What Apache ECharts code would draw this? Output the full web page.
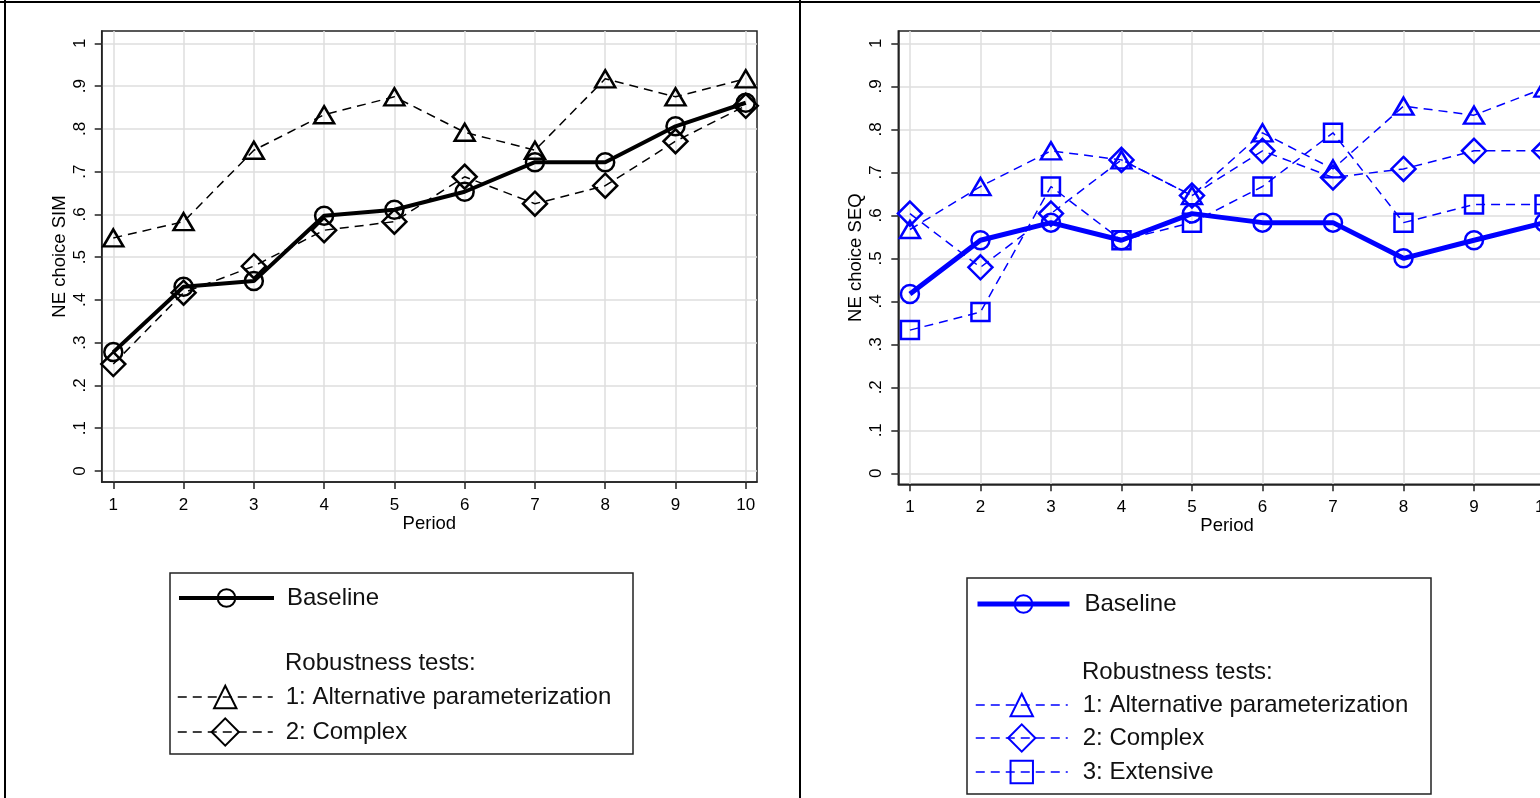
<!DOCTYPE html>
<html>
<head>
<meta charset="utf-8">
<script src="https://cdn.jsdelivr.net/npm/echarts@6/dist/echarts.min.js"></script>
<style>
html, body { margin: 0; padding: 0; background: #fff; }
body { width: 1540px; height: 798px; position: relative; overflow: hidden; }
#sim { position: absolute; left: 0; top: 0; width: 800px; height: 798px; }
/* right panel is wider than what is left of the page: the reference cuts it off */
#seq { position: absolute; left: 800px; top: 0; width: 770px; height: 798px; }
.rule { position: absolute; background: #000; z-index: 5; }
</style>
</head>
<body>
<div id="sim"></div>
<div id="seq"></div>
<div class="rule" style="left:0;top:1px;width:1540px;height:2px"></div>
<div class="rule" style="left:4px;top:0;width:2px;height:798px"></div>
<div class="rule" style="left:799px;top:0;width:2px;height:798px"></div>
<script>
// data
const periods = [1, 2, 3, 4, 5, 6, 7, 8, 9, 10];
const yTicks = [0, 0.1, 0.2, 0.3, 0.4, 0.5, 0.6, 0.7, 0.8, 0.9, 1];
const yTickLabels = ['0', '.1', '.2', '.3', '.4', '.5', '.6', '.7', '.8', '.9', '1'];

// simultaneous game (left panel)
const simBaseline = [0.278, 0.431, 0.444, 0.597, 0.611, 0.653, 0.722, 0.722, 0.806, 0.861];
const simAlt      = [0.545, 0.583, 0.750, 0.833, 0.875, 0.792, 0.750, 0.917, 0.875, 0.917];
const simComplex  = [0.250, 0.417, 0.479, 0.563, 0.583, 0.688, 0.625, 0.667, 0.771, 0.854];

// sequential game (right panel)
const seqBaseline  = [0.417, 0.542, 0.583, 0.542, 0.604, 0.583, 0.583, 0.500, 0.542, 0.583];
const seqAlt       = [0.567, 0.667, 0.750, 0.729, 0.646, 0.792, 0.708, 0.854, 0.833, 0.896];
const seqComplex   = [0.604, 0.479, 0.604, 0.729, 0.646, 0.750, 0.688, 0.708, 0.750, 0.750];
const seqExtensive = [0.333, 0.375, 0.667, 0.542, 0.583, 0.667, 0.792, 0.583, 0.625, 0.625];

const FONT = '"Liberation Sans", Arial, sans-serif';
const DASH = [9, 6];

function lineSeries(name, values, color, symbol, size, dashed, width, z) {
  return {
    name: name,
    type: 'line',
    data: periods.map((p, i) => [p, values[i]]),
    symbol: symbol,
    symbolSize: size,
    z: z,
    itemStyle: { color: 'none', borderColor: color, borderWidth: 2.5 },
    lineStyle: { color: color, width: width, type: dashed ? DASH : 'solid' },
    emphasis: { disabled: true },
    animation: false
  };
}

function legendRow(name, left, cy, h, width, gap, color, lineWidth, dashed) {
  return {
    data: [name],
    left: left,
    top: cy - h / 2,
    padding: 0,
    itemWidth: width,
    itemHeight: h,
    selectedMode: false,
    lineStyle: { color: color, width: lineWidth, type: dashed ? DASH : 'solid' },
    textStyle: { fontSize: 24, fontFamily: FONT, color: '#111', lineHeight: h, padding: [0, 0, 0, gap] }
  };
}

function axes(cfg) {
  return {
    xAxis: {
      type: 'value',
      min: 0.835,
      max: 10.16,
      name: 'Period',
      nameLocation: 'middle',
      nameGap: 32,
      nameMoveOverlap: false,
      nameTextStyle: { fontSize: 18.5, fontFamily: FONT, color: '#000' },
      axisLine: { show: true, onZero: false, lineStyle: { color: '#222', width: 1.5 } },
      axisTick: { show: true, length: 7, customValues: periods, lineStyle: { color: '#222', width: 1.5 } },
      axisLabel: { customValues: periods, margin: 15, fontSize: 17, fontFamily: FONT, color: '#000' },
      splitLine: { show: true, lineStyle: { color: '#dedede', width: 1.5 } }
    },
    yAxis: {
      type: 'value',
      min: -0.0257,
      max: 1.0288,
      name: cfg.yName,
      nameLocation: 'middle',
      nameGap: cfg.yNameGap,
      nameMoveOverlap: false,
      nameTextStyle: { fontSize: 18.5, fontFamily: FONT, color: '#000' },
      axisLine: { show: true, onZero: false, lineStyle: { color: '#222', width: 1.5 } },
      axisTick: { show: true, length: 7, customValues: yTicks, lineStyle: { color: '#222', width: 1.5 } },
      axisLabel: {
        customValues: yTicks, rotate: 90, margin: 13, fontSize: 17, fontFamily: FONT, color: '#000',
        formatter: v => yTickLabels[Math.round(v * 10)]
      },
      splitLine: { show: true, lineStyle: { color: '#dedede', width: 1.5 } }
    }
  };
}

// left panel
const simChart = echarts.init(document.getElementById('sim'));
simChart.setOption(Object.assign({
  animation: false,
  grid: { left: 101.7, top: 31, width: 655.3, height: 451, show: true, borderColor: '#222', borderWidth: 1.5, backgroundColor: '#fff' },
  legend: [
    legendRow('Baseline', 177, 597, 22, 95, 8, '#000', 4, false),
    legendRow('1: Alternative parameterization', 177, 697, 28, 95, 8, '#000', 1.5, true),
    legendRow('2: Complex', 177, 732, 34, 95, 8, '#000', 1.5, true)
  ],
  graphic: [
    { type: 'rect', shape: { x: 170, y: 573, width: 463, height: 181 }, style: { fill: 'none', stroke: '#222', lineWidth: 1.5 } },
    { type: 'text', x: 285, y: 663, style: { text: 'Robustness tests:', fontSize: 24, fontFamily: FONT, fill: '#111', verticalAlign: 'middle' } }
  ],
  series: [
    lineSeries('1: Alternative parameterization', simAlt, '#000', 'triangle', [20, 17], true, 1.5, 2),
    lineSeries('2: Complex', simComplex, '#000', 'diamond', [24, 24], true, 1.5, 3),
    lineSeries('Baseline', simBaseline, '#000', 'circle', 18, false, 4, 4)
  ]
}, axes({ yName: 'NE choice SIM', yNameGap: 32 })));

// right panel (runs past the page edge, as in the reference)
const seqChart = echarts.init(document.getElementById('seq'));
seqChart.setOption(Object.assign({
  animation: false,
  grid: { left: 98.3, top: 31, width: 657.5, height: 453.3, show: true, borderColor: '#222', borderWidth: 1.5, backgroundColor: '#fff' },
  legend: [
    legendRow('Baseline', 175, 603, 22, 92, 10, '#0000ff', 5, false),
    legendRow('1: Alternative parameterization', 175, 705, 28, 92, 10, '#0000ff', 1.5, true),
    legendRow('2: Complex', 175, 738, 34, 92, 10, '#0000ff', 1.5, true),
    legendRow('3: Extensive', 175, 772, 28, 92, 10, '#0000ff', 1.5, true)
  ],
  graphic: [
    { type: 'rect', shape: { x: 167, y: 578, width: 464, height: 216 }, style: { fill: 'none', stroke: '#222', lineWidth: 1.5 } },
    { type: 'text', x: 282, y: 672, style: { text: 'Robustness tests:', fontSize: 24, fontFamily: FONT, fill: '#111', verticalAlign: 'middle' } }
  ],
  series: [
    lineSeries('1: Alternative parameterization', seqAlt, '#0000ff', 'triangle', [20, 17], true, 1.5, 2),
    lineSeries('2: Complex', seqComplex, '#0000ff', 'diamond', [24, 24], true, 1.5, 3),
    lineSeries('3: Extensive', seqExtensive, '#0000ff', 'rect', 18, true, 1.5, 3),
    lineSeries('Baseline', seqBaseline, '#0000ff', 'circle', 18, false, 5, 4)
  ]
}, axes({ yName: 'NE choice SEQ', yNameGap: 33 })));
</script>
</body>
</html>
